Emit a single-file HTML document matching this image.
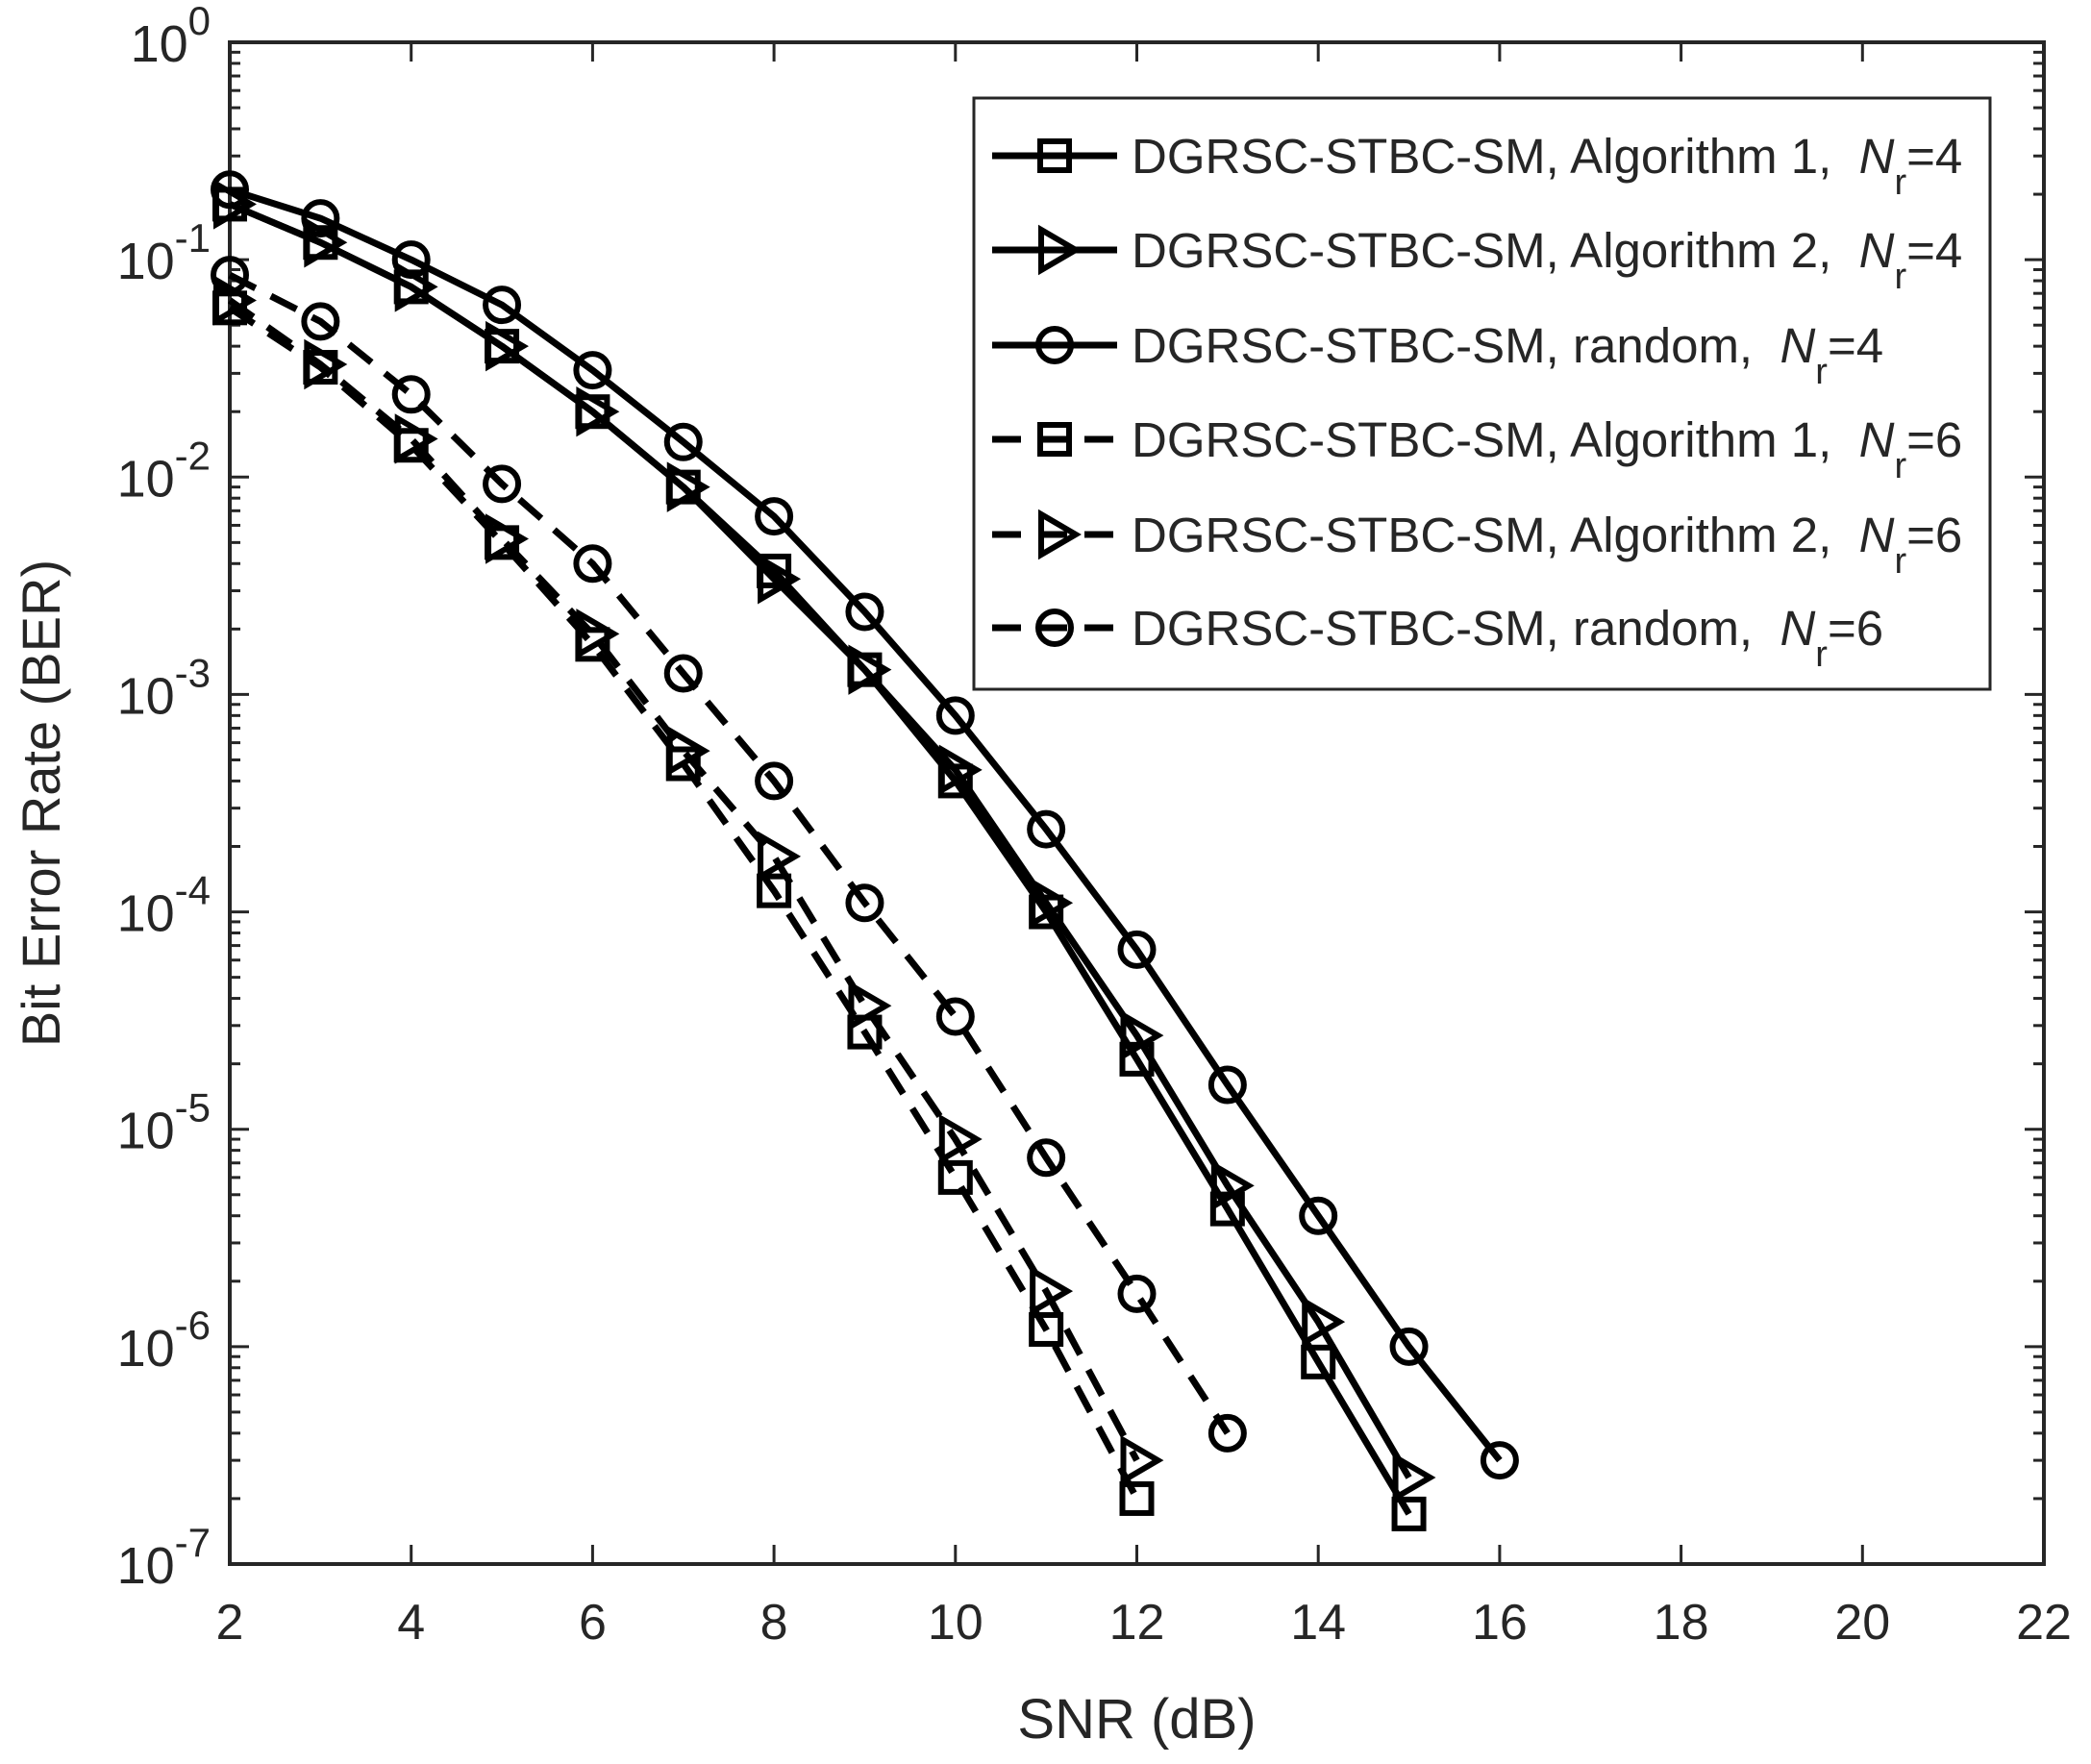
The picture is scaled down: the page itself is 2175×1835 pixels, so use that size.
<!DOCTYPE html>
<html><head><meta charset="utf-8"><style>
html,body{margin:0;padding:0;background:#fff;}
svg text{font-family:"Liberation Sans",Arial,sans-serif;fill:#262626;}
</style></head><body>
<svg id="chart" width="2175" height="1830" viewBox="0 0 2175 1830" xmlns="http://www.w3.org/2000/svg">
<rect width="2175" height="1830" fill="#fff"/>
<g id="plot"></g>
</svg>
<script>
const xTicks=[2,4,6,8,10,12,14,16,18,20,22];
const yExps=[0,-1,-2,-3,-4,-5,-6,-7];
const snrA=[2,3,4,5,6,7,8,9,10,11,12,13,14,15];
const snrR4=[2,3,4,5,6,7,8,9,10,11,12,13,14,15,16];
const snrB=[2,3,4,5,6,7,8,9,10,11,12];
const snrR6=[2,3,4,5,6,7,8,9,10,11,12,13];
const berAlg1Nr4=[0.18,0.12,0.075,0.04,0.02,0.009,0.0037,0.0013,0.0004,1.0e-4,2.1e-5,4.3e-6,8.5e-7,1.7e-7];
const berAlg2Nr4=[0.18,0.12,0.075,0.04,0.02,0.009,0.0034,0.0013,0.00045,1.1e-4,2.7e-5,5.5e-6,1.3e-6,2.5e-7];
const berRandNr4=[0.21,0.155,0.1,0.062,0.031,0.0145,0.0066,0.0024,0.0008,0.00024,6.7e-5,1.6e-5,4e-6,1e-6,3e-7];
const berAlg1Nr6=[0.06,0.032,0.014,0.005,0.0017,0.00048,0.000125,2.8e-5,6e-6,1.2e-6,2e-7];
const berAlg2Nr6=[0.065,0.033,0.015,0.0052,0.0019,0.00055,0.00018,3.7e-5,9e-6,1.8e-6,3e-7];
const berRandNr6=[0.085,0.052,0.024,0.0093,0.004,0.00125,0.0004,0.00011,3.3e-5,7.4e-6,1.75e-6,4e-7];
const legendLabels=["DGRSC-STBC-SM, Algorithm 1,  ","DGRSC-STBC-SM, Algorithm 2,  ","DGRSC-STBC-SM, random,  ","DGRSC-STBC-SM, Algorithm 1,  ","DGRSC-STBC-SM, Algorithm 2,  ","DGRSC-STBC-SM, random,  "];
const legendNr=["4","4","4","6","6","6"];

const L=239,R=2126,T=44,B=1627;
const NS="http://www.w3.org/2000/svg";
const g=document.getElementById('plot');
function X(v){return L+(v-2)/20*(R-L);}
function Y(v){return T+(0-Math.log10(v))/7*(B-T);}
function el(tag,attrs,parent){const e=document.createElementNS(NS,tag);for(const k in attrs)e.setAttribute(k,attrs[k]);(parent||g).appendChild(e);return e;}

const box=el('rect',{x:L,y:T,width:R-L,height:B-T,fill:'none',stroke:'#262626','stroke-width':4});


xTicks.forEach(v=>{
  const x=X(v);
  el('line',{x1:x,y1:B,x2:x,y2:B-20,stroke:'#262626','stroke-width':3});
  el('line',{x1:x,y1:T,x2:x,y2:T+20,stroke:'#262626','stroke-width':3});
  const t=el('text',{x:x,y:B+78,'font-size':52,'text-anchor':'middle'});
  t.textContent=v;
  
  
});
yExps.forEach(e=>{
  const y=Y(Math.pow(10,e));
  el('line',{x1:L,y1:y,x2:L+20,y2:y,stroke:'#262626','stroke-width':3});
  el('line',{x1:R,y1:y,x2:R-20,y2:y,stroke:'#262626','stroke-width':3});
  if(e>-7){for(let m=2;m<=9;m++){const yy=Y(m*Math.pow(10,e-1));
    el('line',{x1:L,y1:yy,x2:L+11,y2:yy,stroke:'#262626','stroke-width':3});
    el('line',{x1:R,y1:yy,x2:R-11,y2:yy,stroke:'#262626','stroke-width':3});}}
  const t=el('text',{x:L-20,y:y+20,'font-size':54,'text-anchor':'end'});
  
  
  const a=document.createElementNS(NS,'tspan');a.textContent='10';t.appendChild(a);
  const b=document.createElementNS(NS,'tspan');b.setAttribute('dy','-28');b.setAttribute('font-size','42');b.textContent=String(e);t.appendChild(b);
});
const xt=el('text',{x:(L+R)/2,y:1808,'font-size':58,'text-anchor':'middle'});
xt.textContent='SNR (dB)';


const yt=el('text',{x:0,y:0,'font-size':56,'text-anchor':'middle',transform:`translate(62,${(T+B)/2}) rotate(-90)`});
yt.textContent='Bit Error Rate (BER)';



function marker(type,x,y,parent){
  if(type==='s') return el('rect',{x:x-15,y:y-15,width:30,height:30,fill:'none',stroke:'#000','stroke-width':6},parent);
  if(type==='t') return el('polygon',{points:`${x-14},${y-21} ${x+22},${y} ${x-14},${y+21}`,fill:'none',stroke:'#000','stroke-width':6},parent);
  return el('circle',{cx:x,cy:y,r:17,fill:'none',stroke:'#000','stroke-width':6},parent);
}
const series=[
 {name:'series-alg1-nr4',xs:snrA,ys:berAlg1Nr4,m:'s',dash:null},
 {name:'series-alg2-nr4',xs:snrA,ys:berAlg2Nr4,m:'t',dash:null},
 {name:'series-random-nr4',xs:snrR4,ys:berRandNr4,m:'c',dash:null},
 {name:'series-alg1-nr6',xs:snrB,ys:berAlg1Nr6,m:'s',dash:'30 18'},
 {name:'series-alg2-nr6',xs:snrB,ys:berAlg2Nr6,m:'t',dash:'30 18'},
 {name:'series-random-nr6',xs:snrR6,ys:berRandNr6,m:'c',dash:'30 18'}
];
series.forEach(s=>{
  const grp=el('g',{});
  
  
  const pts=s.xs.map((x,i)=>X(x)+','+Y(s.ys[i])).join(' ');
  const a={points:pts,fill:'none',stroke:'#000','stroke-width':7,'stroke-linejoin':'round'};
  if(s.dash)a['stroke-dasharray']=s.dash;
  el('polyline',a,grp);
  s.xs.forEach((x,i)=>{const m=marker(s.m,X(x),Y(s.ys[i]),grp);
    
    });
});

const lg=el('g',{});


el('rect',{x:1013,y:102,width:1057,height:615,fill:'#fff',stroke:'#262626','stroke-width':3},lg);
const rowY=[162,260,359,457,556,653];
series.forEach((s,i)=>{
  const ent=el('g',{},lg);
  
  
  const y=rowY[i];
  const a={x1:1032,y1:y,x2:1162,y2:y,stroke:'#000','stroke-width':7};
  if(s.dash)a['stroke-dasharray']='30 18';
  el('line',a,ent);
  marker(s.m,1097,y,ent);
  const t=el('text',{x:1177,y:y+18,'font-size':51},ent);
  t.setAttribute('xml:space','preserve');
  t.style.whiteSpace='pre';
  const p=document.createElementNS(NS,'tspan');p.textContent=legendLabels[i];t.appendChild(p);
  const n=document.createElementNS(NS,'tspan');n.setAttribute('font-style','italic');n.textContent='N';t.appendChild(n);
  const r=document.createElementNS(NS,'tspan');r.setAttribute('dy','22');r.setAttribute('font-size','38');r.textContent='r';t.appendChild(r);
  const q=document.createElementNS(NS,'tspan');q.setAttribute('dy','-22');q.textContent='='+legendNr[i];t.appendChild(q);
});
</script>
</body></html>
